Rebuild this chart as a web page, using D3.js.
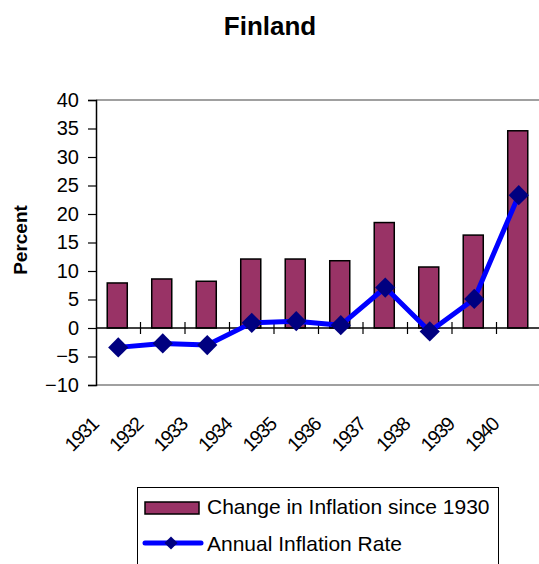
<!DOCTYPE html>
<html>
<head>
<meta charset="utf-8">
<script src="https://cdn.jsdelivr.net/npm/d3@7"></script>
<style>
  body { margin: 0; background: #fff; }
  text { font-family: "Liberation Sans", Arial, sans-serif; }
</style>
</head>
<body>
<div id="chart"></div>
<script>
var years = ["1931", "1932", "1933", "1934", "1935", "1936", "1937", "1938", "1939", "1940"];
var changeSince1930 = [7.9, 8.6, 8.2, 12.1, 12.1, 11.8, 18.5, 10.7, 16.3, 34.6];
var annualRate = [-3.4, -2.7, -3.0, 0.9, 1.2, 0.5, 7.1, -0.6, 5.1, 23.3];
var yTicks = [-10, -5, 0, 5, 10, 15, 20, 25, 30, 35, 40];

var width = 539, height = 564;
var plot = {left: 96, right: 541, top: 100, bottom: 385};

var svg = d3.select("#chart")
    .append("svg")
    .attr("width", width)
    .attr("height", height);

var x = d3.scaleBand()
    .domain(years)
    .range([plot.left, plot.right])
    .paddingInner(0.55)
    .paddingOuter(0.275);

var y = d3.scaleLinear()
    .domain([-10, 40])
    .range([plot.bottom, plot.top]);

// top and bottom frame lines
svg.append("line")
    .attr("x1", plot.left).attr("x2", width)
    .attr("y1", y(40)).attr("y2", y(40))
    .attr("stroke", "#808080").attr("stroke-width", 1.5);
svg.append("line")
    .attr("x1", plot.left).attr("x2", width)
    .attr("y1", y(-10)).attr("y2", y(-10))
    .attr("stroke", "#808080").attr("stroke-width", 1.5);

// y axis
var yAxis = svg.append("g")
    .attr("transform", "translate(" + plot.left + ",0)")
    .call(d3.axisLeft(y).tickValues(yTicks).tickSize(8).tickPadding(9));
yAxis.select(".domain").attr("stroke", "#000").attr("stroke-width", 1.5);
yAxis.selectAll(".tick line").attr("stroke", "#000").attr("stroke-width", 1.2);
yAxis.selectAll(".tick text")
    .style("font-size", "20px")
    .attr("fill", "#000")
    .style("font-family", "Liberation Sans, Arial, sans-serif");

// bars
svg.selectAll("rect.bar")
    .data(changeSince1930)
    .enter()
    .append("rect")
    .attr("class", "bar")
    .attr("x", function (d, i) { return x(years[i]) - 1; })
    .attr("width", x.bandwidth())
    .attr("y", function (d) { return y(d); })
    .attr("height", function (d) { return y(0) - y(d); })
    .attr("fill", "#993366")
    .attr("stroke", "#000")
    .attr("stroke-width", 1.5);

// zero line (category axis)
svg.append("line")
    .attr("x1", plot.left).attr("x2", width)
    .attr("y1", y(0)).attr("y2", y(0))
    .attr("stroke", "#000").attr("stroke-width", 1.5);

// category ticks crossing the axis
var gap = x.step() - x.bandwidth();
svg.selectAll("line.cat")
    .data(years.slice(1))
    .enter()
    .append("line")
    .attr("class", "cat")
    .attr("x1", function (d) { return x(d) - gap / 2; })
    .attr("x2", function (d) { return x(d) - gap / 2; })
    .attr("y1", y(0) - 6).attr("y2", y(0) + 6)
    .attr("stroke", "#000").attr("stroke-width", 1.2);

// line series
var cx = function (d, i) { return x(years[i]) + x.bandwidth() / 2; };
var line = d3.line()
    .x(cx)
    .y(function (d) { return y(d); });

svg.append("path")
    .datum(annualRate)
    .attr("d", line)
    .attr("fill", "none")
    .attr("stroke", "#0000ff")
    .attr("stroke-width", 5)
    .attr("stroke-linejoin", "round");

var diamond = d3.symbol().type(d3.symbolDiamond2).size(260);
svg.selectAll("path.pt")
    .data(annualRate)
    .enter()
    .append("path")
    .attr("class", "pt")
    .attr("d", diamond)
    .attr("transform", function (d, i) { return "translate(" + cx(d, i) + "," + y(d) + ")"; })
    .attr("fill", "#000080");

// x labels rotated
svg.selectAll("text.xl")
    .data(years)
    .enter()
    .append("text")
    .attr("class", "xl")
    .attr("transform", function (d) {
        return "translate(" + (x(d) + x.bandwidth() / 2 - 19) + "," + 426 + ") rotate(-45)";
    })
    .style("text-anchor", "end")
    .style("font-size", "19.5px")
    .style("letter-spacing", "-1.5px")
    .text(function (d) { return d; });

// title
svg.append("text")
    .attr("x", 270).attr("y", 35)
    .style("text-anchor", "middle")
    .style("font-size", "26px")
    .style("font-weight", "bold")
    .text("Finland");

// y label
svg.append("text")
    .attr("transform", "translate(26.5,240) rotate(-90)")
    .style("text-anchor", "middle")
    .style("font-size", "19px")
    .style("font-weight", "bold")
    .text("Percent");

// legend
var legend = svg.append("g");
legend.append("rect")
    .attr("x", 137.5).attr("y", 487.5)
    .attr("width", 361).attr("height", 90)
    .attr("fill", "#fff")
    .attr("stroke", "#000").attr("stroke-width", 1);
legend.append("rect")
    .attr("x", 145).attr("y", 502)
    .attr("width", 54).attr("height", 12)
    .attr("fill", "#993366")
    .attr("stroke", "#000").attr("stroke-width", 1.5);
legend.append("text")
    .attr("x", 207).attr("y", 514)
    .style("font-size", "21px")
    .text("Change in Inflation since 1930");
legend.append("line")
    .attr("x1", 145).attr("x2", 201)
    .attr("y1", 543).attr("y2", 543)
    .attr("stroke", "#0000ff").attr("stroke-width", 5)
    .attr("stroke-linecap", "round");
legend.append("path")
    .attr("d", d3.symbol().type(d3.symbolDiamond2).size(110))
    .attr("transform", "translate(171,543)")
    .attr("fill", "#000080");
legend.append("text")
    .attr("x", 207).attr("y", 551)
    .style("font-size", "21px")
    .text("Annual Inflation Rate");
</script>
</body>
</html>
